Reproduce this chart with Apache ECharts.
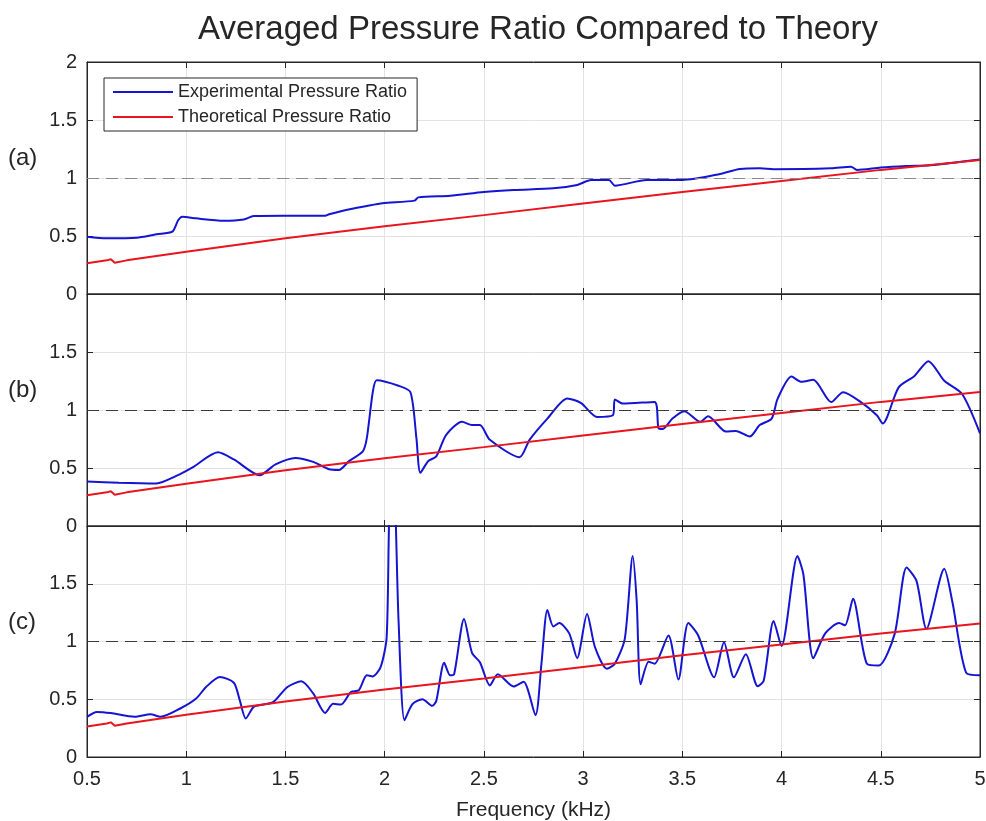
<!DOCTYPE html>
<html>
<head>
<meta charset="utf-8">
<script src="https://cdn.jsdelivr.net/npm/echarts@6/dist/echarts.min.js"></script>
</head>
<body style="margin:0;background:#fff">
<div id="container" style="width:986px;height:821px"></div>
<script type="text/javascript">
// values (kHz, pressure ratio)
var theoryFreq  = [0.5, 0.6, 0.62, 0.63, 0.64, 0.7, 1.0, 1.01, 1.5, 2.0, 2.5, 3.0, 3.5, 4.0, 4.5, 5.0];
var theoryRatio = [0.265, 0.29, 0.30, 0.31, 0.27, 0.29, 0.365, 0.362, 0.48, 0.585, 0.68, 0.78, 0.88, 0.975, 1.07, 1.155];

var freqA  = [0.5, 0.6, 0.75, 0.85, 0.93, 0.96, 0.98, 1.05, 1.19, 1.29, 1.34, 1.49, 1.70, 1.72, 1.83, 1.91, 1.99, 2.15, 2.17, 2.33, 2.5, 2.65, 2.85, 2.97, 3.04, 3.13, 3.16, 3.32, 3.5, 3.69, 3.79, 3.89, 3.96, 4.25, 4.35, 4.38, 4.5, 4.63, 4.75, 5.0];
var ratioA = [0.494, 0.48, 0.485, 0.515, 0.537, 0.638, 0.667, 0.652, 0.632, 0.643, 0.672, 0.675, 0.675, 0.687, 0.733, 0.759, 0.782, 0.805, 0.833, 0.848, 0.88, 0.897, 0.911, 0.94, 0.983, 0.983, 0.934, 0.983, 0.983, 1.034, 1.078, 1.083, 1.075, 1.083, 1.098, 1.069, 1.09, 1.103, 1.11, 1.16];

var freqB  = [0.5, 0.66, 0.85, 0.95, 1.03, 1.16, 1.24, 1.37, 1.45, 1.55, 1.64, 1.72, 1.77, 1.82, 1.89, 1.91, 1.94, 1.96, 2.07, 2.13, 2.16, 2.18, 2.22, 2.26, 2.31, 2.39, 2.44, 2.48, 2.53, 2.68, 2.73, 2.82, 2.92, 2.99, 3.07, 3.15, 3.16, 3.20, 3.36, 3.38, 3.40, 3.45, 3.51, 3.59, 3.63, 3.72, 3.77, 3.84, 3.89, 3.95, 3.98, 4.05, 4.10, 4.16, 4.25, 4.31, 4.40, 4.48, 4.51, 4.59, 4.67, 4.74, 4.82, 4.91, 5.0];
var ratioB = [0.384, 0.373, 0.367, 0.432, 0.503, 0.636, 0.574, 0.438, 0.531, 0.587, 0.553, 0.489, 0.483, 0.559, 0.644, 0.757, 1.153, 1.257, 1.209, 1.153, 0.757, 0.46, 0.56, 0.60, 0.786, 0.898, 0.87, 0.87, 0.743, 0.593, 0.743, 0.926, 1.10, 1.059, 0.94, 0.955, 1.09, 1.055, 1.07, 0.842, 0.836, 0.926, 0.989, 0.898, 0.946, 0.814, 0.82, 0.771, 0.87, 0.926, 1.096, 1.288, 1.243, 1.26, 1.068, 1.153, 1.068, 0.955, 0.884, 1.195, 1.294, 1.421, 1.252, 1.138, 0.799];

var freqC  = [0.5, 0.55, 0.62, 0.74, 0.82, 0.87, 0.97, 1.05, 1.10, 1.17, 1.24, 1.27, 1.30, 1.34, 1.39, 1.44, 1.51, 1.58, 1.64, 1.70, 1.74, 1.78, 1.83, 1.87, 1.91, 1.94, 1.98, 2.01, 2.025, 2.045, 2.07, 2.10, 2.14, 2.19, 2.24, 2.26, 2.30, 2.33, 2.35, 2.40, 2.44, 2.48, 2.53, 2.57, 2.65, 2.70, 2.76, 2.79, 2.82, 2.85, 2.88, 2.93, 2.97, 3.02, 3.06, 3.12, 3.16, 3.21, 3.25, 3.27, 3.29, 3.33, 3.36, 3.43, 3.48, 3.53, 3.58, 3.66, 3.71, 3.76, 3.82, 3.88, 3.91, 3.96, 4.00, 4.08, 4.11, 4.16, 4.22, 4.29, 4.32, 4.36, 4.43, 4.49, 4.57, 4.63, 4.68, 4.73, 4.82, 4.86, 4.93, 5.0];
var ratioC = [0.348, 0.39, 0.38, 0.348, 0.37, 0.348, 0.42, 0.506, 0.606, 0.692, 0.643, 0.49, 0.334, 0.434, 0.454, 0.477, 0.606, 0.655, 0.55, 0.382, 0.46, 0.454, 0.563, 0.578, 0.707, 0.698, 0.78, 1.037, 2.2, 2.4, 1.18, 0.319, 0.457, 0.5, 0.443, 0.486, 0.816, 0.707, 0.716, 1.195, 0.902, 0.82, 0.62, 0.716, 0.61, 0.652, 0.362, 0.808, 1.273, 1.13, 1.16, 1.07, 0.856, 1.239, 0.95, 0.764, 0.808, 1.023, 1.74, 1.35, 0.63, 0.825, 0.808, 1.052, 0.67, 1.16, 1.052, 0.69, 0.994, 0.69, 0.89, 0.612, 0.66, 1.177, 0.96, 1.74, 1.58, 0.856, 1.07, 1.16, 1.14, 1.37, 0.808, 0.793, 1.066, 1.64, 1.525, 1.11, 1.63, 1.35, 0.73, 0.707];

var panelLabels = ['(a)', '(b)', '(c)'];

function pairs(xs, ys) {
    return xs.map(function (x, i) { return [x, ys[i]]; });
}

var dom = document.getElementById('container');
var myChart = echarts.init(dom);
var textColor = '#262626';
var font = 'Liberation Sans, Arial, sans-serif';

var grids = [
    {left: 87, right: 6, top: 62, height: 232},
    {left: 87, right: 6, top: 294, height: 232},
    {left: 87, right: 6, top: 526, height: 231}
];
var expData = [pairs(freqA, ratioA), pairs(freqB, ratioB), pairs(freqC, ratioC)];
var dashColor = ['#8a8a8a', '#3a3a3a', '#3a3a3a'];

var xAxes = [], yAxes = [], series = [];
grids.forEach(function (g, i) {
    g.show = true;
    g.borderColor = textColor;
    g.borderWidth = 1;
    g.containLabel = false;
    g.outerBoundsMode = 'none';
    var last = i === 2;
    // bottom axis
    xAxes.push({
        type: 'value', gridIndex: i, min: 0.5, max: 5, interval: 0.5,
        position: 'bottom',
        axisLine: {show: true, onZero: false, lineStyle: {color: textColor}},
        axisTick: {show: true, inside: true, length: 6, lineStyle: {color: textColor}},
        axisLabel: {show: last, color: textColor, fontSize: 20, fontFamily: font, margin: 12},
        splitLine: {show: true, lineStyle: {color: '#e3e3e3'}},
        name: last ? 'Frequency (kHz)' : '',
        nameLocation: 'middle', nameGap: 43,
        nameTextStyle: {color: textColor, fontSize: 21, fontFamily: font}
    });
    // top axis: ticks only
    xAxes.push({
        type: 'value', gridIndex: i, min: 0.5, max: 5, interval: 0.5,
        position: 'top',
        axisLine: {show: true, onZero: false, lineStyle: {color: textColor}},
        axisTick: {show: true, inside: true, length: 6, lineStyle: {color: textColor}},
        axisLabel: {show: false},
        splitLine: {show: false}
    });
    yAxes.push({
        type: 'value', gridIndex: i, min: 0, max: 2, interval: 0.5,
        position: 'left',
        axisLine: {show: true, onZero: false, lineStyle: {color: textColor}},
        axisTick: {show: true, inside: true, length: 6, lineStyle: {color: textColor}},
        axisLabel: {color: textColor, fontSize: 20, fontFamily: font, margin: 10, showMaxLabel: i === 0},
        splitLine: {show: true, lineStyle: {color: '#e3e3e3'}}
    });
    yAxes.push({
        type: 'value', gridIndex: i, min: 0, max: 2, interval: 0.5,
        position: 'right',
        axisLine: {show: true, onZero: false, lineStyle: {color: textColor}},
        axisTick: {show: true, inside: true, length: 6, lineStyle: {color: textColor}},
        axisLabel: {show: false},
        splitLine: {show: false}
    });

    series.push({
        name: 'Experimental Pressure Ratio', type: 'line',
        xAxisIndex: i * 2, yAxisIndex: i * 2,
        data: expData[i], symbol: 'none', smooth: 0.25, clip: true,
        lineStyle: {color: '#1414d2', width: 2}, itemStyle: {color: '#1414d2'},
        markLine: {
            silent: true, symbol: 'none', label: {show: false},
            lineStyle: {color: dashColor[i], type: [12, 7], width: 1.2},
            data: [{yAxis: 1}]
        }
    });
    series.push({
        name: 'Theoretical Pressure Ratio', type: 'line',
        xAxisIndex: i * 2, yAxisIndex: i * 2,
        data: pairs(theoryFreq, theoryRatio), symbol: 'none', clip: true,
        lineStyle: {color: '#e8141e', width: 2}, itemStyle: {color: '#e8141e'}
    });
});

var option = {
    animation: false,
    backgroundColor: '#fff',
    title: {
        text: 'Averaged Pressure Ratio Compared to Theory',
        left: 533, top: 8, textAlign: 'center',
        textStyle: {color: textColor, fontSize: 33, fontWeight: 'normal', fontFamily: font}
    },
    legend: {
        data: ['Experimental Pressure Ratio', 'Theoretical Pressure Ratio'],
        orient: 'vertical', left: 104, top: 78,
        backgroundColor: '#fff', borderColor: textColor, borderWidth: 1, borderRadius: 0,
        padding: [5, 10, 5, 8], itemGap: 7, itemWidth: 60, itemHeight: 18,
        itemStyle: {opacity: 0},
        textStyle: {color: textColor, fontSize: 18, fontFamily: font}
    },
    graphic: panelLabels.map(function (t, i) {
        return {
            type: 'text', left: 8, top: [146, 378, 610][i],
            style: {text: t, fill: textColor, fontSize: 24, fontFamily: font}
        };
    }),
    grid: grids,
    xAxis: xAxes,
    yAxis: yAxes,
    series: series
};
myChart.setOption(option);
</script>
</body>
</html>
